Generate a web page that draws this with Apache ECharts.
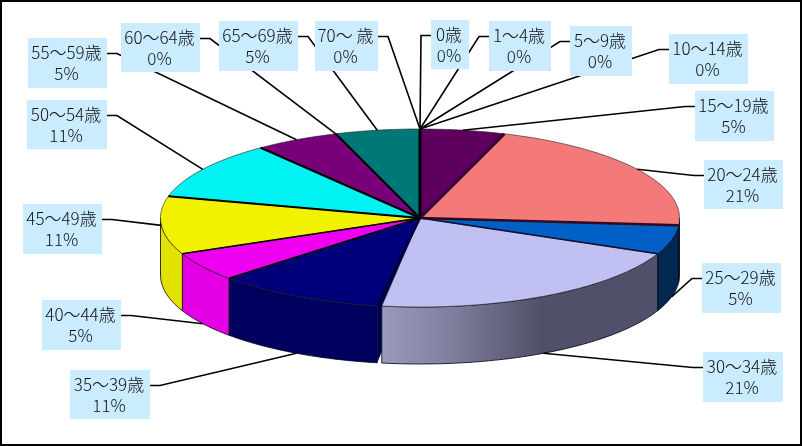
<!DOCTYPE html>
<html><head><meta charset="utf-8">
<style>html,body{margin:0;padding:0;background:#fff}#c{width:802px;height:446px}</style>
<script src="https://cdn.jsdelivr.net/npm/echarts@6/dist/echarts.min.js"></script>
</head><body><div id="c"></div>
<script>
// Data
const categories = ['0歳','1～4歳','5～9歳','10～14歳','15～19歳','20～24歳','25～29歳','30～34歳','35～39歳','40～44歳','45～49歳','50～54歳','55～59歳','60～64歳','65～69歳','70～ 歳'];
const counts = [0,0,0,0,1,4,1,4,2,1,2,2,1,0,1,0];
// Styles
const topColors = ['#000','#000','#000','#000','#5f005f','#f47a7a','#0060c6','#c0c0f2','#00007a','#f000f0','#f2f200','#00f2f2','#780078','#000','#007878','#000'];
const wallColors = ['#000','#000','#000','#000','#300030','#7a3d3d','#002850',null,'#00005e','#e400e4','#e2e200','#00c0c0','#500050','#000','#005050','#000'];
const edgeWidths = [1,1,1,1,3,3,2.5,1.5,2.5,1.5,1.5,2,2,1,2,1];
const edgeColors = ['#000','#000','#000','#000','#000','#300a30','#300a20','#101030','#000040','#000','#000','#000','#000','#000','#000','#000'];
// Layout
const CX=420, CY=218, RX=259.5, RY=89, DEPTH=57;
const labelBoxes = [[431,20,38,49],[489,21,62,50],[570,26,62,50],[669,34,79,50],[695,91,79,50],[704,160,79,49],[702,263,79,50],[703,352,80,50],[70,370,80,49],[42,300,79,50],[23,204,79,50],[27,100,80,49],[28,38,79,50],[121,23,79,49],[219,21,79,50],[315,21,63,50]];
const anchorOnWall = [0,0,0,0,0,0,1,1,1,1,0,0,0,0,0,0];
const FONT = '300 17px "Noto Sans CJK JP"';

const total = counts.reduce((a,b)=>a+b,0);
const percentLabels = counts.map(v=>Math.round(v/total*100)+'%');
let cum=0;
const spans = counts.map(v=>{const s=cum/total*Math.PI*2; cum+=v; return [s,cum/total*Math.PI*2];});
const pt=(t,dy)=>[CX+RX*Math.sin(t), CY-RY*Math.cos(t)+(dy||0)];
function arc(a,b,dy){const n=Math.max(2,Math.ceil((b-a)/0.02)),r=[];for(let i=0;i<=n;i++)r.push(pt(a+(b-a)*i/n,dy));return r;}
const idx = categories.map((_,i)=>i);
const TRIM = 1*Math.PI/180;

function renderSlice(p){
  const i=p.dataIndex, s=spans[i][0]; let e=spans[i][1];
  if(e<=s) return null;
  if(i===7) e-=TRIM;
  const children=[];
  const a=Math.max(s,Math.PI/2), b=Math.min(e,Math.PI*1.5);
  if(b>a){
    const fill = wallColors[i] || new echarts.graphic.LinearGradient(0,0,1,0,[{offset:0,color:'#9a9abc'},{offset:.25,color:'#7f7f9e'},{offset:.58,color:'#50506a'},{offset:1,color:'#50506a'}]);
    children.push({type:'polygon',shape:{points:arc(a,b,0).concat(arc(a,b,DEPTH).reverse())},style:{fill,stroke:'rgba(0,0,20,.8)',lineWidth:1}});
  }
  if(i===8){
    const p0=pt(s), p1=pt(s-TRIM), p2=pt(s-TRIM,DEPTH*.8), p3=pt(s,DEPTH);
    children.push({type:'polygon',shape:{points:[[CX,CY],p1,p2,p3,p0]},style:{fill:'#000048'}});
  }
  children.push({type:'polygon',shape:{points:[[CX,CY]].concat(arc(s,e,0))},style:{fill:topColors[i],stroke:'rgba(30,30,30,.75)',lineWidth:.8}});
  return {type:'group',children};
}
function renderEdge(p){
  const i=p.dataIndex;
  if(spans[i][1]<=spans[i][0]) return null;
  const q=pt(spans[i][0]);
  return {type:'line',shape:{x1:CX,y1:CY,x2:q[0],y2:q[1]},style:{stroke:edgeColors[i],lineWidth:edgeWidths[i]}};
}
function renderLeader(p){
  const i=p.dataIndex,bx=labelBoxes[i],left=i<8,mid=(spans[i][0]+spans[i][1])/2;
  const edge=left?bx[0]:bx[0]+bx[2], y=bx[1]+15.5;
  return {type:'polyline',shape:{points:[[edge,y],[edge+(left?-10:10),y],pt(mid,anchorOnWall[i]?DEPTH:0)]},style:{stroke:'#000',lineWidth:1.6,fill:null}};
}
function renderLabel(p){
  const i=p.dataIndex,bx=labelBoxes[i],x=bx[0]+bx[2]/2-1;
  return {type:'group',children:[
    {type:'rect',shape:{x:bx[0],y:bx[1],width:bx[2],height:bx[3]},style:{fill:'#cbebff'}},
    {type:'text',style:{text:categories[i],x,y:bx[1]+15,align:'center',verticalAlign:'middle',font:FONT,fill:'#111'}},
    {type:'text',style:{text:percentLabels[i],x,y:bx[1]+36,align:'center',verticalAlign:'middle',font:FONT,fill:'#111'}}
  ]};
}
const mk=(renderItem,z)=>({type:'custom',coordinateSystem:'none',renderItem,data:idx,z,silent:true,animation:false,clip:false});
const chart=echarts.init(document.getElementById('c'),null,{renderer:'canvas'});
chart.setOption({
  animation:false,
  backgroundColor:'#fff',
  graphic:[{type:'rect',z:100,silent:true,shape:{x:1,y:1,width:800,height:444},style:{fill:'none',stroke:'#000',lineWidth:2}}],
  series:[mk(renderSlice,2),mk(renderEdge,3),mk(renderLeader,4),mk(renderLabel,5)]
});
</script></body></html>
